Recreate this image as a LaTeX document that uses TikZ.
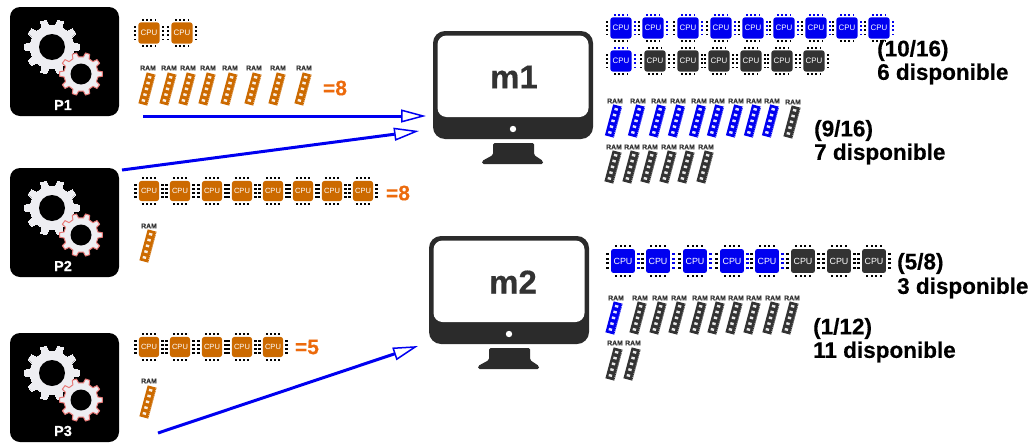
\documentclass[tikz,border=0pt]{standalone}
\usepackage{fontspec}
\setmainfont[BoldFeatures={FakeBold=0.35}]{Liberation Sans}
\usetikzlibrary{arrows.meta}
\definecolor{orng}{HTML}{CC6A00}
\definecolor{eqorng}{HTML}{EC6A0C}
\definecolor{blu}{HTML}{0000F0}
\definecolor{drk}{HTML}{333333}
\definecolor{pin}{HTML}{555555}
\definecolor{gearw}{HTML}{EEEEF2}
\definecolor{gearr}{HTML}{E87A78}
\definecolor{monc}{HTML}{2B2B2B}
\tikzset{
  flow/.style={draw=blu,line width=3pt,-{Triangle[open,fill=white,length=25pt,width=13pt,line width=1.5pt]}},
  procbox/.style={fill=black,rounded corners=10pt,minimum width=109pt,minimum height=109pt,inner sep=0pt,outer sep=0pt},
  proclabel/.style={text=white,font=\bfseries\fontsize{14.5}{14.5}\selectfont,inner sep=0pt},
  monbody/.style={fill=monc,rounded corners=12pt,minimum width=160pt,minimum height=108pt,inner sep=0pt,outer sep=0pt},
  montext/.style={text=drk,font=\bfseries\fontsize{33}{33}\selectfont,inner sep=0pt},
  eqtext/.style={text=eqorng,font=\bfseries\fontsize{21}{21}\selectfont,inner sep=0pt},
  captext/.style={text=black,font=\bfseries\fontsize{22.5}{25}\selectfont,inner sep=0pt,anchor=west},
  cputext/.style={text=white,inner sep=0pt},
  ramtext/.style={text=drk,font=\bfseries\fontsize{6.8}{6.8}\selectfont,inner sep=0pt}
}
% gear: x, y, outer radius, inner radius, fill, outline, outline width
\newcommand{\geardraw}[7]{%
  \begin{scope}[shift={(#1,#2)}]
  \path[fill=#5,draw=#6,line width=#7,line join=round] (6:#3)
    \foreach \ga in {0,36,...,324}{
      -- (\ga+6:#3) -- (\ga+10:#3*0.8) -- (\ga+26:#3*0.8) -- (\ga+30:#3)
    } -- cycle;
  \fill[black] (0,0) circle ({#4});
  \end{scope}
}
% process tile: name, label, x top-left, y top-left
\newcommand{\proctile}[4]{%
  \node[procbox,anchor=north west] (#1) at (#3,#4) {};
  \begin{scope}[shift={(#3,#4)}]
    \geardraw{42}{40}{27.5}{13}{gearw}{gearw}{0pt}
    \geardraw{71}{67}{21.5}{10.5}{gearw}{gearr}{1pt}
    \node[proclabel] (#1t) at (53,98) {#2};
  \end{scope}
}
% cpu: name, x, y, body, top pins, right pins, scale
\newcommand{\cpuchip}[7]{%
  \begin{scope}[shift={(#2,#3)},scale=#7]
    \foreach \pp in {-6.3,-2.1,2.1,6.3}{
      \fill[#5] (\pp-.8,-14.3) rectangle (\pp+.8,-12.2);
      \fill[pin] (\pp-.8,12.2) rectangle (\pp+.8,14.3);
      \fill[pin] (-15.3,\pp-.8) rectangle (-12.8,\pp+.8);
      \fill[#6] (12.8,\pp-.8) rectangle (15.3,\pp+.8);
    }
    \fill[#4,rounded corners=2.5pt] (-10.6,-10.6) rectangle (10.6,10.6);
  \end{scope}
  \pgfmathsetmacro{\cfs}{#7*7.9}%
  \node[cputext,font=\fontsize{\cfs}{9}\selectfont] (#1) at (#2,#3) {CPU};
}
% ram: name, x of label, y of label, body, stick dx, stick dy
\newcommand{\ramstick}[6]{%
  \node[ramtext] (#1) at (#2,#3) {RAM};
  \begin{scope}[shift={(#2+#5,#3+#6)},rotate=-15]
    \fill[#4] (-4.6,-16) rectangle (4.6,16);
    \draw[white!75!#4,line width=.7pt,dash pattern=on .7pt off 1.3pt] (4.2,-15.5) -- (4.2,15.5);
    \foreach \qq in {-12,-6,0,6,12}{\fill[white!90!#4] (-2.2,\qq-1.2) rectangle (1.2,\qq+1.2);}
  \end{scope}
}
\begin{document}
\begin{tikzpicture}[x=1pt,y=-1pt]
\useasboundingbox (0,0) rectangle (1033,442);
\proctile{p1}{P1}{10}{7}
\proctile{p2}{P2}{10}{168}
\proctile{p3}{P3}{10}{333}
% monitors
\foreach \mn/\mx/\my/\tx in {m1/433/31/81,m2/429/236/84}{
  \node[monbody,anchor=north west] (\mn) at (\mx,\my) {};
  \begin{scope}[shift={(\mx,\my)}]
    \fill[white,rounded corners=9pt] (4.5,4.5) rectangle (155.5,86);
    \fill[white] (80,98) circle (3.2);
    \fill[monc,rounded corners=1.5pt] (60,112) -- (101,112) -- (101,124) -- (110,130) -- (110,133) -- (49,133) -- (49,130) -- (60,124) -- cycle;
    \node[montext] (\mn t) at (\tx,46) {\mn};
  \end{scope}
}
% CPU rows
\foreach \cx [count=\ci] in {149,182}{\cpuchip{cpa\ci}{\cx}{33}{orng}{pin}{pin}{1}}
\foreach \cx [count=\ci] in {149,180,212,242,273,303,332,363}{\cpuchip{cpb\ci}{\cx}{191}{orng}{pin}{pin}{.95}}
\foreach \cx [count=\ci] in {149,180,212,242,273}{\cpuchip{cpc\ci}{\cx}{347}{orng}{pin}{pin}{.95}}
\foreach \cx [count=\ci] in {621,653,688,721,753,784,816,847,879}{\cpuchip{cmd\ci}{\cx}{28}{blu}{blu}{blu}{1}}
\cpuchip{cme1}{621}{61}{blu}{blu}{blu}{1}
\foreach \cx [count=\ci] in {655,688,719,751,782,814}{\cpuchip{cmf\ci}{\cx}{61}{drk}{pin}{pin}{1}}
\foreach \cx [count=\ci] in {623,658,695,732,767}{\cpuchip{cmg\ci}{\cx}{261}{blu}{pin}{blu}{1.13}}
\foreach \cx [count=\ci] in {803,839,874}{\cpuchip{cmh\ci}{\cx}{261}{drk}{pin}{pin}{1.13}}
% RAM rows
\foreach \rx [count=\ri] in {148,169,188,208,230,254,278,304}{\ramstick{ra\ri}{\rx}{68}{orng}{-1}{21}}
\ramstick{rb1}{149}{226}{orng}{-1}{20}
\ramstick{rc1}{149}{381}{orng}{-1}{21}
\foreach \rx [count=\ri] in {615,638,659,678,699,717,736,754,772}{\ramstick{rd\ri}{\rx}{101}{blu}{-1.5}{20}}
\ramstick{re1}{793}{102}{drk}{-1}{20}
\foreach \rx [count=\ri] in {614,632,650,669,687,706}{\ramstick{rf\ri}{\rx}{147}{drk}{-1}{20}}
\ramstick{rg1}{616}{298}{blu}{-2}{20}
\foreach \rx [count=\ri] in {640,660,679,700,718,736,754,773,792}{\ramstick{rh\ri}{\rx}{298}{drk}{-2}{20}}
\foreach \rx [count=\ri] in {615,633}{\ramstick{ri\ri}{\rx}{343}{drk}{-1}{21}}
% totals
\node[eqtext] (e1) at (335,88) {=8};
\node[eqtext] (e2) at (398,193) {=8};
\node[eqtext] (e3) at (307,347) {=5};
% capacity labels
\node[captext] (c1a) at (877,50.5) {(10/16)};
\node[captext] (c1b) at (877,74) {6 disponible};
\node[captext] (c2a) at (814,130.5) {(9/16)};
\node[captext] (c2b) at (814,154) {7 disponible};
\node[captext] (c3a) at (897,263.5) {(5/8)};
\node[captext] (c3b) at (897,288) {3 disponible};
\node[captext] (c4a) at (813,328.5) {(1/12)};
\node[captext] (c4b) at (813,352) {11 disponible};
% connectors
\coordinate (a1s) at (143,116); \coordinate (a1e) at (426,116);
\coordinate (a2s) at (122,170); \coordinate (a2e) at (419,131);
\coordinate (a3s) at (158,433); \coordinate (a3e) at (418,346);
\draw[flow] (a1s) -- (a1e);
\draw[flow] (a2s) -- (a2e);
\draw[flow] (a3s) -- (a3e);
\end{tikzpicture}
\end{document}
